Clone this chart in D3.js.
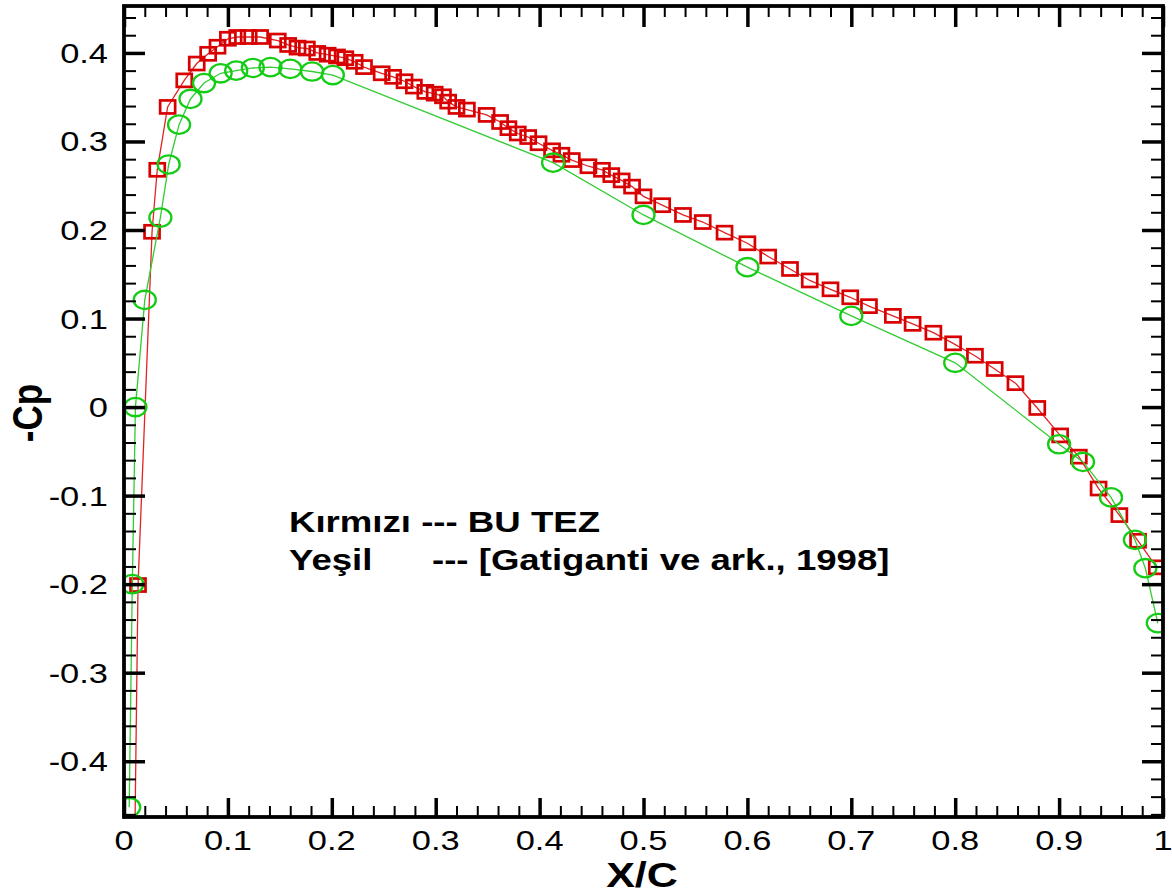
<!DOCTYPE html>
<html>
<head>
<meta charset="utf-8">
<script src="https://cdn.jsdelivr.net/npm/d3@7"></script>
<style>
body { margin: 0; background: #fff; }
text { font-family: "Liberation Sans", Arial, sans-serif; fill: #000; }
</style>
</head>
<body>
<svg id="chart" width="1172" height="895"></svg>
<script>
// BU TEZ (red squares) - first point only carries the line below the frame
var redX = [0.0105, 0.0135, 0.027, 0.032, 0.042, 0.058, 0.070, 0.081, 0.090, 0.100,
    0.109, 0.120, 0.131, 0.148, 0.158, 0.167, 0.176, 0.186, 0.196, 0.205,
    0.213, 0.222, 0.231, 0.248, 0.259, 0.270, 0.279, 0.290, 0.299, 0.307,
    0.312, 0.320, 0.330, 0.349, 0.362, 0.370, 0.379, 0.389, 0.399, 0.412,
    0.421, 0.431, 0.447, 0.460, 0.469, 0.479, 0.489, 0.500, 0.518, 0.538,
    0.557, 0.578, 0.600, 0.620, 0.641, 0.660, 0.680, 0.699, 0.717, 0.740,
    0.759, 0.779, 0.798, 0.819, 0.838, 0.858, 0.879, 0.901, 0.919, 0.938,
    0.958, 0.976, 0.994];
var redY = [-0.48, -0.201, 0.198, 0.268, 0.339, 0.369, 0.388, 0.399, 0.407, 0.416,
    0.418, 0.418, 0.418, 0.414, 0.409, 0.406, 0.405, 0.400, 0.398, 0.396,
    0.394, 0.390, 0.384, 0.377, 0.373, 0.368, 0.362, 0.356, 0.354, 0.351,
    0.345, 0.339, 0.336, 0.330, 0.322, 0.315, 0.309, 0.305, 0.298, 0.290,
    0.285, 0.279, 0.272, 0.268, 0.262, 0.256, 0.249, 0.238, 0.228, 0.217,
    0.209, 0.197, 0.185, 0.170, 0.156, 0.143, 0.133, 0.124, 0.114, 0.103,
    0.094, 0.084, 0.072, 0.058, 0.043, 0.027, -0.001, -0.032, -0.056, -0.092,
    -0.122, -0.151, -0.181];

// Gatiganti ve ark., 1998 (green circles)
var greenX = [0.005, 0.008, 0.011, 0.020, 0.035, 0.043, 0.053, 0.064, 0.077, 0.093,
    0.108, 0.124, 0.141, 0.160, 0.181, 0.201, 0.413, 0.500, 0.600, 0.700,
    0.800, 0.900, 0.923, 0.950, 0.973, 0.983, 0.995];
var greenY = [-0.452, -0.200, 0.000, 0.121, 0.214, 0.274, 0.319, 0.348, 0.366, 0.377,
    0.380, 0.383, 0.384, 0.382, 0.379, 0.375, 0.276, 0.217, 0.158, 0.103,
    0.050, -0.042, -0.062, -0.102, -0.150, -0.182, -0.244];

var xTicks = [0, 0.1, 0.2, 0.3, 0.4, 0.5, 0.6, 0.7, 0.8, 0.9, 1];
var xTickLabels = ["0", "0.1", "0.2", "0.3", "0.4", "0.5", "0.6", "0.7", "0.8", "0.9", "1"];
var yTicks = [-0.4, -0.3, -0.2, -0.1, 0, 0.1, 0.2, 0.3, 0.4];
var yTickLabels = ["-0.4", "-0.3", "-0.2", "-0.1", "0", "0.1", "0.2", "0.3", "0.4"];

var legendLines = ["Kırmızı --- BU TEZ", "Yeşil", "--- [Gatiganti ve ark., 1998]"];

var plotL = 124, plotR = 1163, plotT = 6, plotB = 817;
var sx = 1.23; // the picture is stretched sideways

var svg = d3.select("#chart");

var x = d3.scaleLinear().domain([0, 1]).range([plotL, plotR]);
var y = d3.scaleLinear().domain([-0.463, 0.453]).range([plotB, plotT]);

svg.append("defs").append("clipPath").attr("id", "plotclip")
    .append("rect").attr("x", plotL).attr("y", plotT)
    .attr("width", plotR - plotL).attr("height", plotB - plotT);

var plot = svg.append("g").attr("clip-path", "url(#plotclip)");

var red = redX.map(function(v, i) { return [v, redY[i]]; });
var green = greenX.map(function(v, i) { return [v, greenY[i]]; });

var line = d3.line().x(function(d) { return x(d[0]); }).y(function(d) { return y(d[1]); });

// red series
plot.append("path").datum(red).attr("d", line)
    .attr("fill", "none").attr("stroke", "#e02424").attr("stroke-width", 1.3);
plot.selectAll("rect.red").data(red).enter().append("rect").attr("class", "red")
    .attr("x", function(d) { return x(d[0]) - 7.5; })
    .attr("y", function(d) { return y(d[1]) - 6.5; })
    .attr("width", 15).attr("height", 13)
    .attr("fill", "none").attr("stroke", "#d80000").attr("stroke-width", 2.7);

// green series
plot.append("path").datum(green).attr("d", line)
    .attr("fill", "none").attr("stroke", "#33cc33").attr("stroke-width", 1.3);
plot.selectAll("ellipse.green").data(green).enter().append("ellipse").attr("class", "green")
    .attr("cx", function(d) { return x(d[0]); })
    .attr("cy", function(d) { return y(d[1]); })
    .attr("rx", 11).attr("ry", 9.2)
    .attr("fill", "none").attr("stroke", "#14cc14").attr("stroke-width", 2.3);

// ticks on all four sides, pointing inwards
var xMinor = d3.range(0, 1.0001, 0.02).filter(function(v) { return Math.abs(v * 10 - Math.round(v * 10)) > 1e-6; });
var yMinor = d3.range(-0.46, 0.4501, 0.02).filter(function(v) { return Math.abs(v * 10 - Math.round(v * 10)) > 1e-6; });

function ticks(axis, vals, size, width) {
    return function(g) {
        g.call(axis.tickValues(vals).tickSize(size).tickSizeOuter(0).tickFormat(""));
        g.select(".domain").remove();
        g.selectAll(".tick line").attr("stroke", "#000").attr("stroke-width", width);
    };
}

svg.append("g").attr("transform", "translate(0," + plotB + ")").call(ticks(d3.axisBottom(x), xMinor, -11, 2));
svg.append("g").attr("transform", "translate(0," + plotB + ")").call(ticks(d3.axisBottom(x), xTicks, -19, 3.5));
svg.append("g").attr("transform", "translate(0," + plotT + ")").call(ticks(d3.axisTop(x), xMinor, -11, 2));
svg.append("g").attr("transform", "translate(0," + plotT + ")").call(ticks(d3.axisTop(x), xTicks, -21, 3.5));
svg.append("g").attr("transform", "translate(" + plotL + ",0)").call(ticks(d3.axisLeft(y), yMinor, -12, 2));
svg.append("g").attr("transform", "translate(" + plotL + ",0)").call(ticks(d3.axisLeft(y), yTicks, -21, 3.5));
svg.append("g").attr("transform", "translate(" + plotR + ",0)").call(ticks(d3.axisRight(y), yMinor, -12, 2));
svg.append("g").attr("transform", "translate(" + plotR + ",0)").call(ticks(d3.axisRight(y), yTicks, -21, 3.5));

svg.append("rect").attr("x", plotL).attr("y", plotT)
    .attr("width", plotR - plotL).attr("height", plotB - plotT)
    .attr("fill", "none").attr("stroke", "#000").attr("stroke-width", 3.8);

// tick labels
svg.selectAll("text.xl").data(xTicks).enter().append("text").attr("class", "xl")
    .attr("transform", function(d) { return "translate(" + x(d) + ",850) scale(" + sx + ",1)"; })
    .attr("text-anchor", "middle").style("font-size", "28px")
    .text(function(d, i) { return xTickLabels[i]; });

svg.selectAll("text.yl").data(yTicks).enter().append("text").attr("class", "yl")
    .attr("transform", function(d) { return "translate(108," + (y(d) + 10) + ") scale(" + sx + ",1)"; })
    .attr("text-anchor", "end").style("font-size", "28px")
    .text(function(d, i) { return yTickLabels[i]; });

// axis titles
svg.append("text")
    .attr("transform", "translate(642,887) scale(" + sx + ",1)")
    .attr("text-anchor", "middle").style("font-size", "35px").style("font-weight", "bold")
    .text("X/C");
svg.append("text")
    .attr("transform", "translate(42,413) rotate(-90) scale(1," + sx + ")")
    .attr("text-anchor", "middle").style("font-size", "35px").style("font-weight", "bold")
    .text("-Cp");

// legend note
var notePos = [[289, 532], [289, 570], [432, 570]];
svg.selectAll("text.note").data(legendLines).enter().append("text").attr("class", "note")
    .attr("transform", function(d, i) { return "translate(" + notePos[i][0] + "," + notePos[i][1] + ") scale(1.22,1)"; })
    .style("font-size", "30px").style("font-weight", "bold")
    .text(function(d) { return d; });
</script>
</body>
</html>
